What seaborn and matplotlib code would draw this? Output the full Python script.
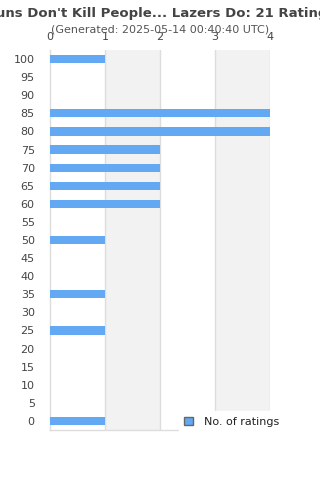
import matplotlib
matplotlib.use("Agg")
import matplotlib.pyplot as plt
import seaborn as sns
import pandas as pd
from matplotlib.patches import Patch

categories = ["100", "95", "90", "85", "80", "75", "70", "65", "60", "55", "50",
              "45", "40", "35", "30", "25", "20", "15", "10", "5", "0"]
counts = [1, 0, 0, 4, 4, 2, 2, 2, 2, 0, 1, 0, 0, 1, 0, 1, 0, 0, 0, 0, 1]
x_ticks = [0, 1, 2, 3, 4]
title = "Guns Don't Kill People... Lazers Do: 21 Ratings"
subtitle = "(Generated: 2025-05-14 00:40:40 UTC)"
series_name = "No. of ratings"

df = pd.DataFrame({"score": categories, "count": counts})

sns.set_style("white")
plt.rcParams["font.family"] = ["DejaVu Sans"]

fig = plt.figure(figsize=(3.2, 4.8), dpi=100)
ax = fig.add_axes([50/320, 1 - 430/480, 220/320, 380/480])

bar_color = "#62a8f2"
# alternating bands
for i in range(len(x_ticks) - 1):
    if i % 2 == 1:
        ax.axvspan(x_ticks[i], x_ticks[i + 1], color="#f2f2f2", zorder=0, lw=0)

sns.barplot(data=df, x="count", y="score", order=categories, orient="h",
            color=bar_color, saturation=1, width=0.45, ax=ax, zorder=3,
            linewidth=0, edgecolor=bar_color)

ax.set_xlim(0, 4)
ax.set_ylim(len(categories) - 0.5, -0.5)
ax.set_xticks(x_ticks)
ax.xaxis.tick_top()
ax.xaxis.set_label_position("top")
ax.set_xlabel("")
ax.set_ylabel("")
for x in x_ticks[1:]:
    ax.axvline(x, color="#dddddd", lw=1, zorder=1)
ax.tick_params(axis="both", length=0, labelsize=8, labelcolor="#444444")
ax.tick_params(axis="x", pad=6)
ax.tick_params(axis="y", pad=11)
for s in ["top", "right"]:
    ax.spines[s].set_visible(False)
for s in ["left", "bottom"]:
    ax.spines[s].set_color("#dddddd")
    ax.spines[s].set_linewidth(1)
    ax.spines[s].set_zorder(2)

fig.text(0.5, 1 - 13/480, title, ha="center", va="center", fontsize=9.5,
         fontweight="bold", color="#444444")
fig.text(0.5, 1 - 29/480, subtitle, ha="center", va="center", fontsize=8,
         color="#555555")

handle = Patch(facecolor=bar_color, edgecolor="#666666", linewidth=1)
leg = fig.legend([handle], [series_name], loc="center left",
                 bbox_to_anchor=(173/320, 1 - 422/480), frameon=True,
                 fontsize=8, handlelength=0.8, handleheight=0.8,
                 handletextpad=1.0, borderpad=0.5)
leg.get_frame().set_edgecolor("white")
leg.get_frame().set_facecolor("white")
leg.get_frame().set_alpha(1)
for t in leg.get_texts():
    t.set_color("#222222")

fig.savefig("out.png", dpi=100)
